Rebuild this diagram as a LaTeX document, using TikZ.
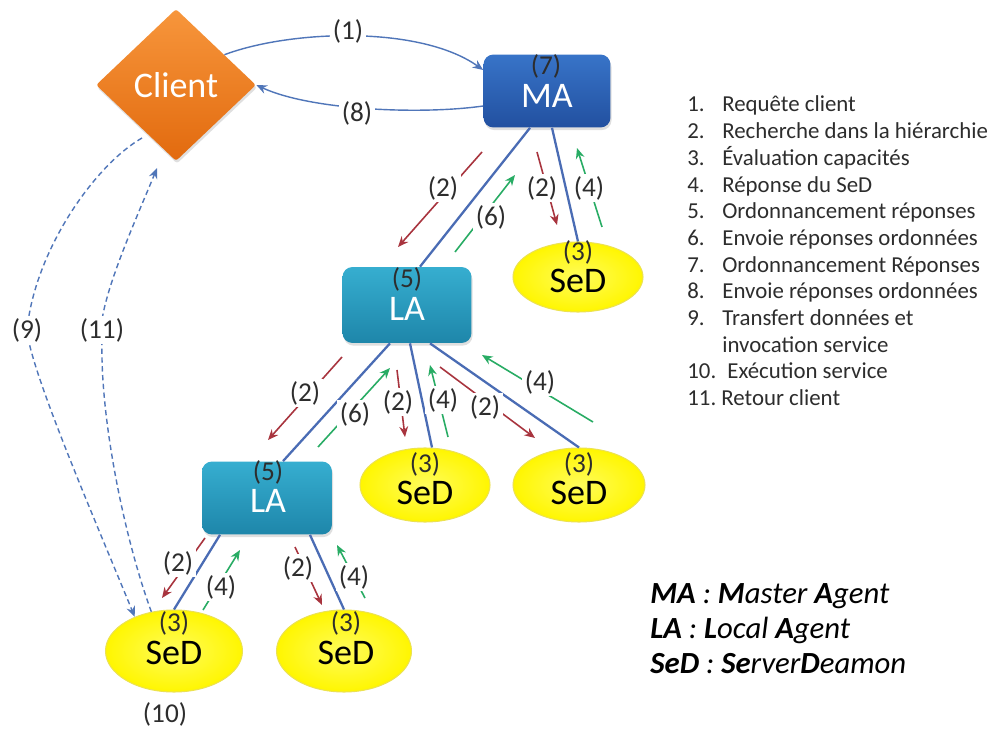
\documentclass[tikz,border=0pt]{standalone}
\usepackage{fontspec}
\setmainfont{Carlito}
\usetikzlibrary{shapes.geometric,arrows.meta,shadows}
\definecolor{cliA}{RGB}{247,150,60}
\definecolor{cliB}{RGB}{226,106,14}
\definecolor{maA}{RGB}{56,116,200}
\definecolor{maB}{RGB}{34,80,160}
\definecolor{laA}{RGB}{54,174,208}
\definecolor{laB}{RGB}{30,134,170}
\definecolor{sedY}{RGB}{255,246,0}
\definecolor{sedI}{RGB}{255,252,90}
\definecolor{sedE}{RGB}{236,226,80}
\definecolor{treeC}{RGB}{74,108,180}
\definecolor{redC}{RGB}{168,52,62}
\definecolor{grnC}{RGB}{40,172,100}
\definecolor{arcC}{RGB}{80,118,185}
\definecolor{labC}{RGB}{45,45,45}
\begin{document}
\begin{tikzpicture}[x=0.02cm,y=-0.02cm,
  lbl/.style={font=\fontsize{15.5}{17}\selectfont, text=labC, inner sep=1pt},
  lblw/.style={lbl, fill=white, inner sep=1.5pt},
  bigtxt/.style={font=\fontsize{20.5}{22}\selectfont},
  agentbox/.style={rectangle, rounded corners=0.2cm, draw=none,
     drop shadow={opacity=0.25, shadow xshift=0.6pt, shadow yshift=-1.5pt}},
  maboxstyle/.style={agentbox, top color=maA, bottom color=maB},
  laboxstyle/.style={agentbox, top color=laA, bottom color=laB},
  sedstyle/.style={ellipse, inner color=sedI, outer color=sedY, draw=sedE, line width=0.6pt},
  treeline/.style={draw=treeC, line width=1.3pt},
  redarr/.style={draw=redC, line width=0.9pt, -{Stealth[length=6pt,width=5pt]}},
  grnarr/.style={draw=grnC, line width=0.9pt, -{Stealth[length=6pt,width=5pt]}},
  arcarr/.style={draw=arcC, line width=0.8pt, -{Stealth[length=6pt,width=5pt]}},
  dasharr/.style={draw=arcC, line width=0.8pt, dash pattern=on 3pt off 2pt, -{Stealth[length=6pt,width=5pt]}},
  legtxt/.style={font=\fontsize{13}{15}\selectfont, text=labC, anchor=base west, inner sep=0pt},
  legbig/.style={font=\fontsize{17.5}{20}\selectfont\itshape, text=black, anchor=base west, inner sep=0pt}
]
\fill[white] (0,0) rectangle (994,729);
\useasboundingbox (0,0) rectangle (994,729);

% ---------- nodes ----------
\node[diamond, top color=cliA, bottom color=cliB, minimum width=3.2cm, minimum height=3.04cm,
      inner sep=0pt, rounded corners=1.5pt, text=white, font=\fontsize{20.5}{22}\selectfont,
      drop shadow={opacity=0.25, shadow xshift=0.6pt, shadow yshift=-1.5pt}] (client) at (176,85) {Client};

\node[maboxstyle, minimum width=2.54cm, minimum height=1.46cm] (ma) at (547,91) {};
\node[laboxstyle, minimum width=2.58cm, minimum height=1.52cm] (la1) at (407,305) {};
\node[laboxstyle, minimum width=2.6cm, minimum height=1.46cm] (la2) at (267,498) {};

\node[sedstyle, minimum width=2.6cm, minimum height=1.4cm] (s1) at (578,277) {};
\node[sedstyle, minimum width=2.6cm, minimum height=1.48cm] (s2) at (425,485) {};
\node[sedstyle, minimum width=2.64cm, minimum height=1.48cm] (s3) at (579,485) {};
\node[sedstyle, minimum width=2.74cm, minimum height=1.64cm] (s4) at (174,651) {};
\node[sedstyle, minimum width=2.7cm, minimum height=1.64cm] (s5) at (344,651) {};

% ---------- tree lines ----------
\draw[treeline] ([xshift=-0.34cm]ma.south) -- ([xshift=0.26cm]la1.north);
\draw[treeline] ([xshift=0.1cm]ma.south) -- (s1.north);
\draw[treeline] ([xshift=-0.34cm]la1.south) -- ([xshift=0.32cm]la2.north);
\draw[treeline] ([xshift=0.06cm]la1.south) -- ([xshift=0.14cm]s2.north);
\draw[treeline] ([xshift=0.46cm]la1.south) -- (s3.north);
\draw[treeline] ([xshift=-0.94cm]la2.south) -- (s4.north);
\draw[treeline] ([xshift=0.86cm]la2.south) -- (s5.north);

% ---------- texts inside nodes ----------
\node[lbl] (ma7) at (546,66) {(7)};
\node[bigtxt, text=white] (matxt) at (547,96) {MA};
\node[lbl] (la1n) at (407,279) {(5)};
\node[bigtxt, text=white] (la1txt) at (407,309) {LA};
\node[lbl] (la2n) at (268,472) {(5)};
\node[bigtxt, text=white] (la2txt) at (268,501) {LA};
\node[lbl] (s1n) at (578,252) {(3)};
\node[bigtxt] (s1txt) at (578,281) {SeD};
\node[lbl] (s2n) at (425,464) {(3)};
\node[bigtxt] (s2txt) at (425,493) {SeD};
\node[lbl] (s3n) at (579,464) {(3)};
\node[bigtxt] (s3txt) at (579,493) {SeD};
\node[lbl] (s4n) at (174,623) {(3)};
\node[bigtxt] (s4txt) at (174,653) {SeD};
\node[lbl] (s5n) at (346,623) {(3)};
\node[bigtxt] (s5txt) at (346,653) {SeD};
\node[lbl] (l10) at (165,714) {(10)};

% ---------- request / answer arrows ----------
\draw[redarr] (482,152) -- (398,247);
\node[lblw] (a1) at (443,188) {(2)};
\draw[grnarr] (455,252) -- (515,175);
\node[lblw] (a2) at (491,217) {(6)};
\draw[redarr] (537,152) -- (557,225);
\node[lblw] (a3) at (542,188) {(2)};
\draw[grnarr] (602,227) -- (577,148);
\node[lblw] (a4) at (589,188) {(4)};

\draw[redarr] (342,357) -- (268,440);
\node[lblw] (a5) at (305,393) {(2)};
\draw[grnarr] (318,447) -- (390,368);
\node[lblw] (a6) at (355,414) {(6)};
\draw[redarr] (397,370) -- (405,437);
\node[lblw] (a7) at (398,402) {(2)};
\draw[grnarr] (448,437) -- (430,365);
\node[lblw] (a8) at (443,400) {(4)};
\draw[redarr] (440,367) -- (535,438);
\node[lblw] (a9) at (485,407) {(2)};
\draw[grnarr] (593,422) -- (482,355);
\node[lblw] (a10) at (540,382) {(4)};

\draw[redarr] (205,538) -- (162,598);
\node[lblw] (a11) at (178,563) {(2)};
\draw[grnarr] (203,610) -- (240,550);
\node[lblw] (a12) at (221,587) {(4)};
\draw[redarr] (295,547) -- (322,605);
\node[lblw] (a13) at (298,568) {(2)};
\draw[grnarr] (365,598) -- (337,545);
\node[lblw] (a14) at (354,577) {(4)};

% ---------- client <-> MA ----------
\draw[arcarr] (client.32) .. controls (290,30) and (420,25) .. ([yshift=0.42cm]ma.west);
\node[lblw] (l1) at (348,31) {(1)};
\draw[arcarr] ([yshift=-0.3cm]ma.west) .. controls (420,115) and (310,110) .. (client.east);
\node[lblw] (l8) at (357,113) {(8)};

% ---------- client <-> SeD dashed ----------
\coordinate (c9s) at (142,138);
\coordinate (c11e) at (157,168);
\draw[dasharr] (c9s) .. controls (95,165) and (35,250) .. (27,330)
   .. controls (30,370) and (95,520) .. (s4.139);
\node[lblw] (l9) at (27,330) {(9)};
\draw[dasharr] (s4.120) .. controls (125,540) and (100,420) .. (102,340)
   -- (102,320) .. controls (108,280) and (140,210) .. (c11e);
\node[lblw] (l11) at (102,330) {(11)};

% ---------- legend ----------
\foreach \n/\t [count=\i from 0] in {1./Requête client, 2./Recherche dans la hiérarchie,
   3./Évaluation capacités, 4./Réponse du SeD, 5./Ordonnancement réponses,
   6./Envoie réponses ordonnées, 7./Ordonnancement Réponses, 8./Envoie réponses ordonnées,
   9./Transfert données et} {
  \node[legtxt] (ln\i) at (687,{112+26.7*\i}) {\n};
  \node[legtxt] (lt\i) at (722,{112+26.7*\i}) {\t};
}
\node[legtxt] (lt9b) at (722,{112+26.7*9}) {invocation service};
\node[legtxt] (ln10) at (687,{112+26.7*10}) {10.};
\node[legtxt] (lt10) at (727,{112+26.7*10}) {Exécution service};
\node[legtxt] (ln11) at (687,{112+26.7*11}) {11.};
\node[legtxt] (lt11) at (721,{112+26.7*11}) {Retour client};

\node[legbig] (lgma) at (650,603) {\textbf{MA} : \textbf{M}aster \textbf{A}gent};
\node[legbig] (lgla) at (650,638) {\textbf{LA} : \textbf{L}ocal \textbf{A}gent};
\node[legbig] (lgsed) at (650,673) {\textbf{SeD} : \textbf{Se}rver\textbf{D}eamon};
\end{tikzpicture}
\end{document}
